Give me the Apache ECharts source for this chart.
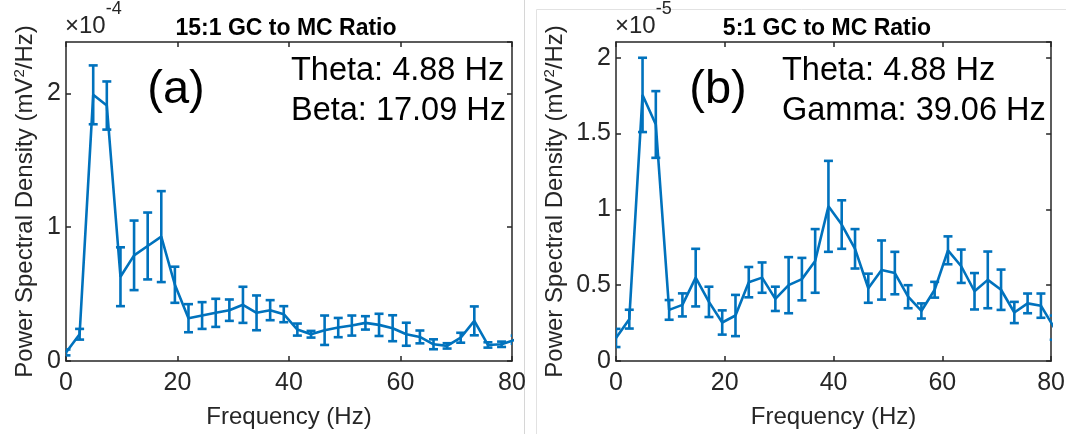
<!DOCTYPE html>
<html>
<head>
<meta charset="utf-8">
<style>
  html, body { margin: 0; padding: 0; background: #ffffff; }
  #chart { width: 1068px; height: 434px; }
</style>
<script src="https://cdn.jsdelivr.net/npm/echarts@6/dist/echarts.min.js"></script>
</head>
<body>
<div id="chart"></div>
<script>
// ---- Data ----
// Frequency bins (Hz), spacing 2.44 Hz
const freq = [0, 2.44, 4.88, 7.32, 9.77, 12.21, 14.65, 17.09, 19.53, 21.97, 24.41, 26.86, 29.30, 31.74,
  34.18, 36.62, 39.06, 41.50, 43.95, 46.39, 48.83, 51.27, 53.71, 56.15, 58.59, 61.04, 63.48, 65.92,
  68.36, 70.80, 73.24, 75.68, 78.13, 80.57];

// Panel (a): 15:1 GC to MC ratio, PSD in units of 1e-4 mV^2/Hz
const psdA = [0.064, 0.20, 1.99, 1.91, 0.63, 0.79, 0.86, 0.93, 0.57, 0.32, 0.34, 0.36, 0.38, 0.42,
  0.36, 0.38, 0.35, 0.235, 0.20, 0.23, 0.25, 0.265, 0.285, 0.27, 0.245, 0.20, 0.18, 0.125,
  0.113, 0.174, 0.30, 0.12, 0.125, 0.16];
const errA = [0.022, 0.04, 0.22, 0.18, 0.22, 0.26, 0.25, 0.34, 0.135, 0.105, 0.10, 0.105, 0.08, 0.135,
  0.13, 0.075, 0.06, 0.045, 0.025, 0.11, 0.072, 0.075, 0.05, 0.083, 0.097, 0.086, 0.048, 0.037,
  0.02, 0.037, 0.108, 0.02, 0.02, 0.03];

// Panel (b): 5:1 GC to MC ratio, PSD in units of 1e-5 mV^2/Hz
const psdB = [0.152, 0.276, 1.755, 1.56, 0.337, 0.37, 0.55, 0.39, 0.254, 0.30, 0.52, 0.55, 0.41, 0.50,
  0.54, 0.66, 1.02, 0.90, 0.74, 0.48, 0.60, 0.58, 0.424, 0.33, 0.47, 0.73, 0.625, 0.46,
  0.535, 0.47, 0.32, 0.38, 0.365, 0.22];
const errB = [0.06, 0.062, 0.245, 0.22, 0.065, 0.076, 0.19, 0.10, 0.08, 0.136, 0.10, 0.10, 0.08, 0.185,
  0.14, 0.21, 0.30, 0.16, 0.13, 0.096, 0.195, 0.14, 0.076, 0.05, 0.052, 0.092, 0.11, 0.12,
  0.187, 0.133, 0.07, 0.065, 0.08, 0.08];

const titles = ['15:1 GC to MC Ratio', '5:1 GC to MC Ratio'];
const panelTags = ['(a)', '(b)'];
const peakTextA = ['Theta: 4.88 Hz', 'Beta: 17.09 Hz'];
const peakTextB = ['Theta: 4.88 Hz', 'Gamma: 39.06 Hz'];
const exponents = ['-4', '-5'];
const xTicks = { min: 0, max: 80, interval: 20 };
const yMaxA = 2.385, yIntA = 1;
const yMaxB = 2.104, yIntB = 0.5;
const xName = 'Frequency (Hz)';
const yName = 'Power Spectral Density (mV{sup|2}/Hz)';

// ---- Styling ----
const FONT = '"Liberation Sans", Arial, Helvetica, sans-serif';
const BLUE = '#0072BD';
const AX = '#262626';

const chart = echarts.init(document.getElementById('chart'), null, { renderer: 'canvas' });

const grids = [
  { left: 66, top: 42, width: 446, height: 323 },
  { left: 616, top: 42, width: 436, height: 323 }
];

function bottomX(gi, gap) {
  return {
    gridIndex: gi, type: 'value', position: 'bottom',
    min: xTicks.min, max: xTicks.max, interval: xTicks.interval,
    axisLine: { show: true, onZero: false, lineStyle: { color: AX, width: 1.5 } },
    axisTick: { show: true, inside: true, length: 5, lineStyle: { color: AX, width: 1.5 } },
    axisLabel: { show: true, margin: 10, fontSize: 25, color: AX, fontFamily: FONT },
    splitLine: { show: false },
    name: xName, nameLocation: 'middle', nameGap: gap,
    nameTextStyle: { fontSize: 24, color: AX, fontFamily: FONT }
  };
}
function topX(gi) {
  return {
    gridIndex: gi, type: 'value', position: 'top',
    min: xTicks.min, max: xTicks.max, interval: xTicks.interval,
    axisLine: { show: true, onZero: false, lineStyle: { color: AX, width: 1.5 } },
    axisTick: { show: true, inside: true, length: 5, lineStyle: { color: AX, width: 1.5 } },
    axisLabel: { show: false }, splitLine: { show: false }
  };
}
function leftY(gi, max, interval, gap) {
  return {
    gridIndex: gi, type: 'value', position: 'left',
    min: 0, max: max, interval: interval,
    axisLine: { show: true, onZero: false, lineStyle: { color: AX, width: 1.5 } },
    axisTick: { show: true, inside: true, length: 5, lineStyle: { color: AX, width: 1.5 } },
    axisLabel: { show: true, margin: 5, fontSize: 25, color: AX, fontFamily: FONT, showMaxLabel: false },
    splitLine: { show: false },
    name: yName, nameLocation: 'middle', nameGap: gap,
    nameTextStyle: {
      fontSize: 24, color: AX, fontFamily: FONT,
      rich: { sup: { fontSize: 15, color: AX, fontFamily: FONT, verticalAlign: 'top', lineHeight: 26 } }
    }
  };
}
function rightY(gi, max, interval) {
  return {
    gridIndex: gi, type: 'value', position: 'right',
    min: 0, max: max, interval: interval,
    axisLine: { show: true, onZero: false, lineStyle: { color: AX, width: 1.5 } },
    axisTick: { show: true, inside: true, length: 5, lineStyle: { color: AX, width: 1.5 } },
    axisLabel: { show: false }, splitLine: { show: false }
  };
}

function errData(v, e) {
  return freq.map((f, i) => [f, v[i] - e[i], v[i] + e[i]]);
}
function renderErr(params, api) {
  const x = api.value(0);
  const lo = api.coord([x, api.value(1)]);
  const hi = api.coord([x, api.value(2)]);
  const cw = 4.5;
  const st = { stroke: BLUE, lineWidth: 2.6 };
  return {
    type: 'group',
    children: [
      { type: 'line', shape: { x1: lo[0], y1: lo[1], x2: hi[0], y2: hi[1] }, style: st },
      { type: 'line', shape: { x1: lo[0] - cw, y1: lo[1], x2: lo[0] + cw, y2: lo[1] }, style: st },
      { type: 'line', shape: { x1: hi[0] - cw, y1: hi[1], x2: hi[0] + cw, y2: hi[1] }, style: st }
    ]
  };
}

function lineSeries(xi, yi, vals) {
  return {
    type: 'line', xAxisIndex: xi, yAxisIndex: yi,
    data: freq.map((f, i) => [f, vals[i]]),
    symbol: 'none', clip: true, silent: true, animation: false,
    lineStyle: { color: BLUE, width: 2.6 }, z: 3
  };
}
function errSeries(xi, yi, vals, errs) {
  return {
    type: 'custom', xAxisIndex: xi, yAxisIndex: yi,
    data: errData(vals, errs), encode: { x: 0, y: [1, 2] },
    renderItem: renderErr, clip: true, silent: true, animation: false, z: 2
  };
}

function txt(x, y, text, size, extra) {
  return {
    type: 'text', x: x, y: y, silent: true,
    style: Object.assign({
      text: text, font: size + 'px ' + FONT, fill: '#000',
      textAlign: 'left', textVerticalAlign: 'middle'
    }, extra || {})
  };
}
function expLabel(x, exp) {
  return {
    type: 'text', x: x, y: 38, silent: true,
    style: {
      text: '{a|×10}{b|' + exp + '}', textVerticalAlign: 'bottom', textAlign: 'left',
      font: '24px ' + FONT,
      rich: {
        a: { font: '24px ' + FONT, fill: AX, lineHeight: 38, verticalAlign: 'bottom' },
        b: { font: '18px ' + FONT, fill: AX, lineHeight: 38, verticalAlign: 'top' }
      }
    }
  };
}

const graphics = [
  // divider and right-panel frame
  { type: 'line', shape: { x1: 524.5, y1: 0, x2: 524.5, y2: 434 }, style: { stroke: '#d6d6d6', lineWidth: 1 }, silent: true },
  { type: 'line', shape: { x1: 536.5, y1: 9.5, x2: 1066, y2: 9.5 }, style: { stroke: '#e2e2e2', lineWidth: 1 }, silent: true },
  { type: 'line', shape: { x1: 536.5, y1: 9.5, x2: 536.5, y2: 434 }, style: { stroke: '#e2e2e2', lineWidth: 1 }, silent: true },
  // titles
  txt(286, 29, titles[0], 23, { font: 'bold 23px ' + FONT, textAlign: 'center' }),
  txt(827, 29, titles[1], 23, { font: 'bold 23px ' + FONT, textAlign: 'center' }),
  // exponent labels
  expLabel(65, exponents[0]),
  expLabel(615, exponents[1]),
  // panel tags
  txt(176, 90, panelTags[0], 47, { textAlign: 'center' }),
  txt(718, 90, panelTags[1], 47, { textAlign: 'center' }),
  // peak annotations
  txt(291, 71, peakTextA[0], 32.5),
  txt(291, 111, peakTextA[1], 32.5),
  txt(782, 71, peakTextB[0], 32.5),
  txt(782, 111, peakTextB[1], 32.5)
];

const option = {
  backgroundColor: '#ffffff',
  animation: false,
  grid: grids,
  xAxis: [bottomX(0, 44), topX(0), bottomX(1, 44), topX(1)],
  yAxis: [leftY(0, yMaxA, yIntA, 28), rightY(0, yMaxA, yIntA), leftY(1, yMaxB, yIntB, 48), rightY(1, yMaxB, yIntB)],
  series: [
    errSeries(0, 0, psdA, errA), lineSeries(0, 0, psdA),
    errSeries(2, 2, psdB, errB), lineSeries(2, 2, psdB)
  ],
  graphic: graphics
};
chart.setOption(option);
</script>
</body>
</html>
